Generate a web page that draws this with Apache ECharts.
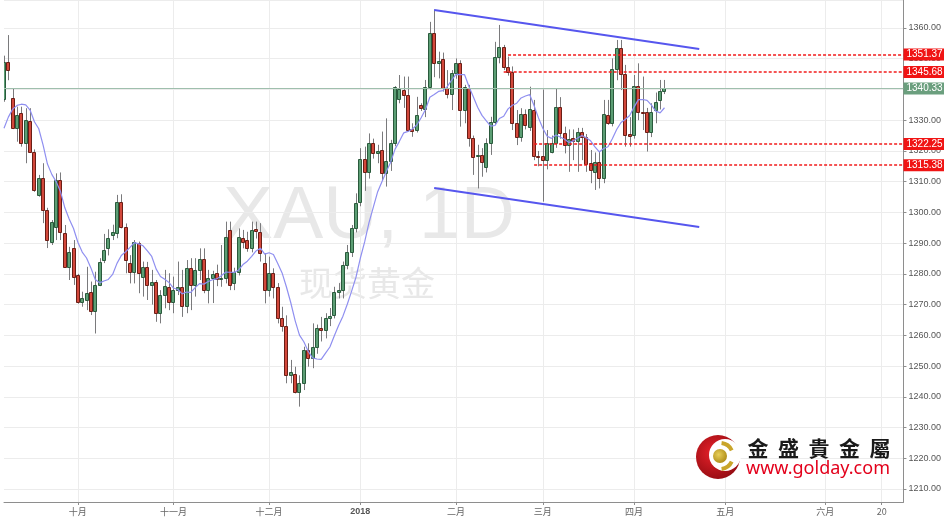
<!DOCTYPE html>
<html><head><meta charset="utf-8">
<script src="https://cdn.jsdelivr.net/npm/echarts@6/dist/echarts.min.js"></script>
<style>html,body{margin:0;padding:0;background:#fff}#c{width:944px;height:519px}</style>
</head><body><div id="c"></div>
<script>
// ---- data (daily XAU candles, index 0 = 2017-09-07) ----
var opens = [1337,1349,1337.1,1327.4,1332.2,1322.5,1329.8,1319.8,1305.7,1311.1,
1300.8,1290.5,1295.3,1310.5,1293.2,1282.3,1288.3,1279.6,1271,1271.5,
1274.2,1268,1276.4,1284.5,1288.3,1292.6,1293.2,1303.5,1295.3,1283.4,
1280.7,1290,1279.1,1282.3,1276.4,1277.5,1267.2,1273.1,1275.8,1271,
1274.7,1275.8,1269.5,1281.8,1276.5,1281.3,1284.7,1274.7,1278.6,1280.2,
1278.3,1278.6,1294.3,1276.9,1280.7,1291.6,1291,1288.3,1294.6,1293.7,
1283.4,1274.7,1280.2,1275.8,1265.5,1263,1247.1,1247.4,1241.7,1244.4,
1255.2,1252.5,1256.3,1262.3,1261.7,1265.5,1266.6,1274.2,1274.7,1282.9,
1287.2,1294.8,1303.5,1317.3,1313.3,1322.7,1319.4,1320.3,1312.7,1316.6,
1322.5,1336.8,1339.8,1338.2,1327,1326.8,1334.9,1333.5,1340.9,1358.3,
1348.5,1349.8,1340.4,1338.5,1345.3,1348.7,1333.3,1340.4,1324.1,1318.3,
1318.7,1314.9,1322.7,1329.5,1350.7,1353.7,1347.4,1345.8,1329,1324.4,
1331.9,1327.9,1333.3,1318.4,1318.4,1317,1319.8,1322.7,1334.4,1325.7,
1321.9,1324.1,1323.3,1326.3,1324.6,1316,1313.2,1316.5,1311.1,1331.7,
1329,1346.6,1353.4,1345,1325.5,1325.2,1341.1,1332.8,1332.8,1326.3,
1333.3,1336.6,1339.6];
var highs = [1351,1357.7,1340.4,1334.4,1334.4,1333.9,1333.9,1320.5,1312.2,1316,
1301.5,1297.5,1312.7,1313,1295.9,1288.8,1291,1280,1274.2,1282.3,
1277.5,1280.7,1285.1,1293,1294.5,1296,1305.7,1305.9,1296.4,1286.1,
1291,1290.5,1284,1283.9,1281.3,1278,1274.7,1281.3,1280.2,1279.1,
1284,1281.3,1284.5,1285.1,1285.1,1288.3,1288.3,1281.3,1281,1283,
1289.4,1297,1297,1282,1294.8,1294.3,1293.7,1297,1297,1296.5,
1286.7,1285.6,1281.8,1277,1269.3,1266.5,1252,1249.8,1247,1256.3,
1257.4,1263.9,1263.5,1266,1267.2,1268.9,1275.8,1277,1284,1289.4,
1295.9,1306.2,1320.9,1321.4,1325.7,1324,1322,1326.3,1330.6,1323.6,
1341.1,1344.7,1344.2,1344.2,1329,1337.6,1335.5,1343.1,1362,1366,
1352.3,1352,1346.3,1346.3,1350.1,1349.5,1341.5,1341.5,1325,1322,
1320.9,1324.1,1331.1,1355.5,1361,1354.5,1350.7,1347.5,1333.3,1333.9,
1333.5,1340.9,1336.6,1320,1340,1326.8,1325,1340.4,1337.5,1327.9,
1327,1327,1327.5,1327.5,1325.5,1320.3,1319.5,1320,1336.6,1336.6,
1350.1,1356.1,1356.1,1348,1331,1344.7,1348.5,1344.2,1334,1335.5,
1339,1343.1,1343.1];
var lows = [1336,1343,1327.1,1323,1321.4,1316,1319.5,1306.7,1305.1,1296.5,
1288.4,1289.4,1291,1291,1282,1278,1276.4,1270.3,1269.3,1268.2,
1266.6,1260.6,1276,1283.5,1286,1291,1291.6,1294.8,1280.2,1276.9,
1276.9,1273.7,1272.6,1271.5,1270,1264.4,1263.9,1268.8,1268.2,1267.2,
1273.1,1266,1267.2,1268.2,1272.6,1278,1273.7,1270.4,1270.5,1276,
1275.8,1276.9,1274.7,1274.7,1279.5,1288.3,1287.2,1287,1291.5,1284,
1270.4,1272.6,1272,1263.9,1261.2,1244.4,1244.4,1241.1,1236.8,1242.2,
1249.8,1249.3,1254,1258,1259,1263,1265.5,1272,1272,1281.5,
1285.5,1293.5,1302,1307,1311,1317.5,1316,1310.5,1308.4,1313.5,
1321.5,1335.5,1334,1326.3,1324.6,1326,1333,1331,1340,1344,
1343.6,1339.3,1337.1,1333.3,1343.5,1327.9,1329,1321.4,1312.2,1307.8,
1311.6,1313,1318.7,1328.5,1348.5,1346.3,1344.5,1326.8,1321.9,1323,
1327,1326.5,1317,1315,1303.5,1314,1319.2,1321,1324,1319.2,
1313.2,1317,1313.2,1317,1313.2,1309.5,1307.3,1307.8,1309.5,1328.5,
1328,1343,1339.8,1321.4,1321.4,1324,1330,1326.8,1319.8,1324.5,
1329,1333.5,1338.5];
var closes = [1348.8,1346.3,1327.4,1331.7,1322.5,1330.1,1319.8,1307.3,1311.1,1300.8,
1291,1297,1310.5,1293.7,1282.3,1287.2,1279.1,1271,1272,1273.7,
1268,1276.4,1284,1287.8,1291.6,1293.7,1303.5,1295.3,1284.5,1280.7,
1290.5,1280.2,1282.3,1276.4,1277.5,1267.2,1273.1,1276.1,1271,1274.7,
1275.8,1269.5,1281.8,1276.5,1281.3,1284.7,1274.7,1278.6,1280,1278.2,
1278.8,1292.1,1276.4,1280.7,1292.1,1290.5,1288.3,1294.3,1294,1286.7,
1274.7,1280.4,1275.8,1265.5,1263,1247.1,1248.2,1241.7,1244.4,1255.2,
1252.5,1256.3,1262.3,1261.7,1265.5,1266.2,1274.2,1274.6,1282.9,1287.2,
1294.8,1303,1317.3,1313.3,1322.7,1319.4,1320.1,1312.7,1316.6,1322.5,
1340.7,1340.1,1338.2,1326.8,1326.6,1331.7,1333.9,1340.9,1358.5,1348.5,
1349.2,1340.4,1338.5,1345.3,1348.7,1333.3,1340.9,1324.1,1318.1,1318.7,
1316.5,1322.7,1329.5,1350.7,1353.7,1347.4,1345.8,1329,1324.4,1331.9,
1328.4,1333.5,1318.4,1318,1317,1322.5,1322.7,1334.4,1325.7,1321.9,
1323.8,1323.3,1326.3,1324.6,1315.7,1313.8,1316.5,1311.1,1332,1329,
1346.6,1353.4,1345,1325.2,1325,1341.1,1332.8,1332.5,1326.3,1332.8,
1336,1339.6,1340.33];
// MA values for the first bars (before 9 closes are available)
var maLead = [1327.4,1331,1333.6,1334.8,1335.2,1335,1333.3,1329.5];
var maPeriod = 9;
var barCount = 208;           // trading-day slots shown (incl. empty future)
var tickIdx = [17,39,61,82,104,124,145,166,189,202];
var tickLabels = ['十月','十一月','十二月','2018','二月','三月','四月','五月','六月','20'];
var levelValues = [1351.37,1345.68,1322.25,1315.38];
var levelStart = [116,115,122,122];
var lastPrice = 1340.33;
var channelUpper = [[99,1365.86],[160,1353.17]];
var channelLower = [[99,1307.93],[160,1295.24]];
var watermark = ['XAU, 1D','现货黄金'];
var brandName = ['金','盛','貴','金','屬'];
var brandUrl = 'www.golday.com';

// ---- build ----
var cats = [];
for (var i = 0; i < barCount; i++) cats.push(String(i));
var candleData = opens.map(function (o, i) { return [i, o, closes[i], lows[i], highs[i]]; });
var maData = closes.map(function (c, i) {
  if (i < maPeriod - 1) return [i, maLead[i]];
  var s = 0; for (var k = i - maPeriod + 1; k <= i; k++) s += closes[k];
  return [i, s / maPeriod];
});
var tickSet = {};
tickIdx.forEach(function (t, k) { tickSet[t] = tickLabels[k]; });
function isTick(i) { return tickSet[i] !== undefined; }

var labelBase = { show: true, position: 'end', distance: 0, color: '#fff', fontSize: 10,
  fontFamily: 'Liberation Sans, Arial, sans-serif', padding: [1, 3, 0, 3], lineHeight: 11 };
var mlData = [];
mlData.push({ yAxis: lastPrice, lineStyle: { color: '#9fbfad', type: 'solid', width: 1 },
  label: Object.assign({}, labelBase, { formatter: lastPrice.toFixed(2), backgroundColor: '#6b9f7e' }) });
levelValues.forEach(function (v, k) {
  var st = { lineStyle: { color: '#f21b1b', type: [3, 2], width: 1.6 },
    label: Object.assign({}, labelBase, { formatter: v.toFixed(2), backgroundColor: '#f01414' }) };
  mlData.push([Object.assign({ coord: [levelStart[k], v] }, st), Object.assign({ coord: [barCount - 1, v] }, st)]);
});
[channelUpper, channelLower].forEach(function (seg) {
  var st = { lineStyle: { color: '#5656ee', type: 'solid', width: 2 }, label: { show: false } };
  mlData.push([Object.assign({ coord: seg[0] }, st), Object.assign({ coord: seg[1] }, st)]);
});

var chart = echarts.init(document.getElementById('c'));
chart.setOption({
  animation: false,
  backgroundColor: '#fff',
  grid: { left: 4, right: 37, top: 0, bottom: 17 },
  xAxis: {
    type: 'category', data: cats, boundaryGap: false,
    axisLine: { lineStyle: { color: '#8e8e8e', width: 1 } },
    axisTick: { show: true, interval: isTick, length: 3, lineStyle: { color: '#8e8e8e' } },
    axisLabel: {
      interval: isTick, margin: 5, color: '#666', fontSize: 9,
      fontFamily: 'Noto Sans CJK SC, sans-serif',
      formatter: function (v, i) { var t = tickSet[i]; return t === '2018' ? '{b|2018}' : t; },
      rich: { b: { fontWeight: 'bold', fontSize: 9, color: '#555', fontFamily: 'Liberation Sans, Arial, sans-serif' } }
    },
    splitLine: { show: true, interval: isTick, lineStyle: { color: '#ececec' } }
  },
  yAxis: {
    type: 'value', position: 'right', min: 1205.77, max: 1369.11, splitNumber: 16,
    axisLine: { show: true, lineStyle: { color: '#8e8e8e' } },
    axisTick: { show: true, length: 3, lineStyle: { color: '#8e8e8e' } },
    axisLabel: {
      showMinLabel: false, showMaxLabel: false, margin: 5, color: '#555', fontSize: 9,
      fontFamily: 'Liberation Sans, Arial, sans-serif',
      formatter: function (v) { return Math.abs(v / 10 - Math.round(v / 10)) < 1e-6 ? v.toFixed(2) : ''; }
    },
    splitLine: { lineStyle: { color: '#ececec' } }
  },
  graphic: [
    { type: 'text', z: -10, x: 369, y: 217, style: { text: watermark[0], font: '75px "Liberation Sans", Arial, sans-serif', fill: '#e8e8e8', align: 'center', verticalAlign: 'middle' } },
    { type: 'text', z: -10, x: 367, y: 283, style: { text: watermark[1], font: '34px "Noto Sans CJK SC", sans-serif', fill: '#e8e8e8', align: 'center', verticalAlign: 'middle' } },
    { type: 'circle', z: 100, shape: { cx: 718, cy: 457, r: 22 }, style: { fill: new echarts.graphic.RadialGradient(0.4, 0.4, 0.7, [{ offset: 0, color: '#e8222a' }, { offset: 1, color: '#8e0a10' }]) } },
    { type: 'circle', z: 101, shape: { cx: 725, cy: 455, r: 16 }, style: { fill: '#fff' } },
    { type: 'circle', z: 102, shape: { cx: 720, cy: 456, r: 7 }, style: { fill: new echarts.graphic.RadialGradient(0.4, 0.4, 0.7, [{ offset: 0, color: '#e8cf5a' }, { offset: 1, color: '#a98612' }]) } },
    { type: 'arc', z: 102, shape: { cx: 720, cy: 456, r: 13, startAngle: -1.45, endAngle: -0.45 }, style: { stroke: '#c9a52a', lineWidth: 4, fill: null } },
    { type: 'arc', z: 102, shape: { cx: 720, cy: 456, r: 13, startAngle: 0.45, endAngle: 1.45 }, style: { stroke: '#c9a52a', lineWidth: 4, fill: null } }
  ].concat(brandName.map(function (ch, k) {
    return { type: 'text', z: 100, x: 758 + k * 30.5, y: 448, style: { text: ch, font: '600 21px "Noto Sans CJK TC", sans-serif', fill: '#1a1a1a', align: 'center', verticalAlign: 'middle' } };
  })).concat([
    { type: 'text', z: 100, x: 746, y: 469, style: { text: brandUrl, font: '18px "Noto Sans", sans-serif', fill: '#e3001b', align: 'left', verticalAlign: 'middle' } }
  ]),
  series: [
    {
      type: 'custom', name: 'XAU', data: candleData, clip: true, z: 3,
      encode: { x: 0, y: [1, 2, 3, 4] },
      renderItem: function (params, api) {
        var x = api.value(0), o = api.value(1), c = api.value(2), l = api.value(3), h = api.value(4);
        var pO = api.coord([x, o]), pC = api.coord([x, c]), pH = api.coord([x, h]), pL = api.coord([x, l]);
        var cx = Math.round(pO[0]) + 0.5;
        var up = c >= o;
        var top = Math.round(Math.min(pO[1], pC[1])) + 0.5;
        var bot = Math.round(Math.max(pO[1], pC[1])) + 0.5;
        if (bot - top < 1) bot = top + 1;
        return { type: 'group', children: [
          { type: 'line', shape: { x1: cx, y1: pH[1], x2: cx, y2: pL[1] }, style: { stroke: '#7a7a7c', lineWidth: 1 } },
          { type: 'rect', shape: { x: cx - 2, y: top, width: 3, height: bot - top },
            style: { fill: up ? '#5c9e74' : '#d2483b', stroke: up ? '#2a5a3c' : '#6a1e16', lineWidth: 1 } }
        ] };
      }
    },
    {
      type: 'line', name: 'MA9', data: maData, showSymbol: false, symbol: 'none', z: 4,
      lineStyle: { color: '#8f8ff0', width: 1.2 },
      markLine: { silent: true, symbol: ['none', 'none'], animation: false, data: mlData }
    }
  ]
});
</script></body></html>
